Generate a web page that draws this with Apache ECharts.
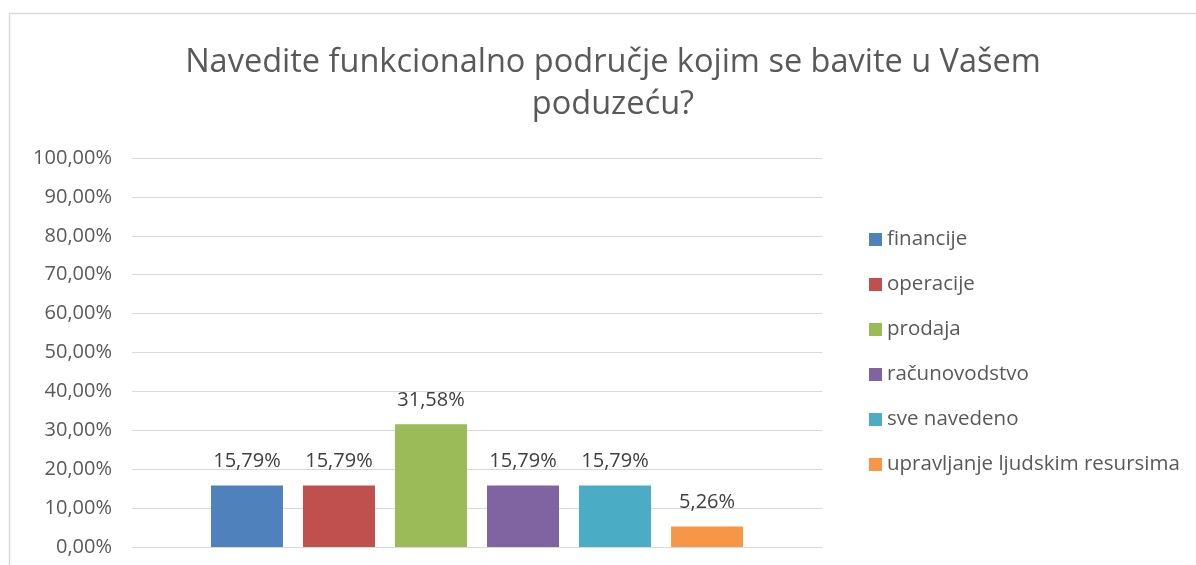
<!DOCTYPE html>
<html>
<head>
<meta charset="utf-8">
<script src="https://cdn.jsdelivr.net/npm/echarts@6/dist/echarts.min.js"></script>
<style>
  html, body { margin: 0; padding: 0; background: #fff; }
  #chart { width: 1196px; height: 565px; }
</style>
</head>
<body>
<div id="chart"></div>
<script>
// podaci
const naslov = 'Navedite funkcionalno područje kojim se bavite u Vašem\npoduzeću?';
const kategorije = ['financije', 'operacije', 'prodaja', 'računovodstvo', 'sve navedeno', 'upravljanje ljudskim resursima'];
const vrijednosti = [15.79, 15.79, 31.58, 15.79, 15.79, 5.26];
const boje = ['#4f81bd', '#c0504d', '#9bbb59', '#8064a2', '#4bacc6', '#f79646'];

const font = '"Open Sans", Lato, sans-serif';
const fmt = v => v.toFixed(2).replace('.', ',') + '%';

let myChart = echarts.init(document.getElementById('chart'));

// svaka kategorija je zasebna serija (kao u Excelu)
let series = kategorije.map((ime, i) => ({
  name: ime,
  type: 'bar',
  data: [vrijednosti[i]],
  barWidth: 72,
  barGap: '27.8%',
  itemStyle: { color: boje[i] },
  label: {
    show: true,
    position: 'top',
    distance: 14,
    color: '#404040',
    fontFamily: font,
    fontSize: 20,
    formatter: p => fmt(p.value)
  }
}));

let option = {
  animation: false,
  title: {
    text: naslov,
    left: 608,
    top: 37,
    textAlign: 'center',
    textStyle: {
      color: '#595959',
      fontFamily: font,
      fontSize: 32.5,
      fontWeight: 'normal',
      lineHeight: 42
    }
  },
  graphic: [{
    type: 'rect',
    shape: { x: 9.5, y: 13.5, width: 1300, height: 700 },
    style: { fill: 'none', stroke: '#d9d9d9', lineWidth: 1.5 },
    silent: true
  }],
  legend: {
    orient: 'vertical',
    left: 864,
    top: 224,
    itemWidth: 13,
    itemHeight: 13,
    itemGap: 24,
    icon: 'rect',
    textStyle: { color: '#595959', fontFamily: font, fontSize: 20.5, lineHeight: 21 },
    data: kategorije
  },
  grid: { left: 132, right: 374, top: 158, bottom: 18, containLabel: false },
  xAxis: {
    type: 'category',
    data: [''],
    axisLine: { lineStyle: { color: '#d9d9d9' } },
    axisTick: { show: false },
    axisLabel: { show: false }
  },
  yAxis: {
    type: 'value',
    min: 0,
    max: 100,
    interval: 10,
    axisLine: { show: false },
    axisTick: { show: false },
    splitLine: { lineStyle: { color: '#d9d9d9', width: 1 } },
    axisLabel: {
      color: '#595959',
      fontFamily: font,
      fontSize: 20,
      margin: 20,
      formatter: v => fmt(v)
    }
  },
  series: series
};

myChart.setOption(option);
</script>
</body>
</html>
